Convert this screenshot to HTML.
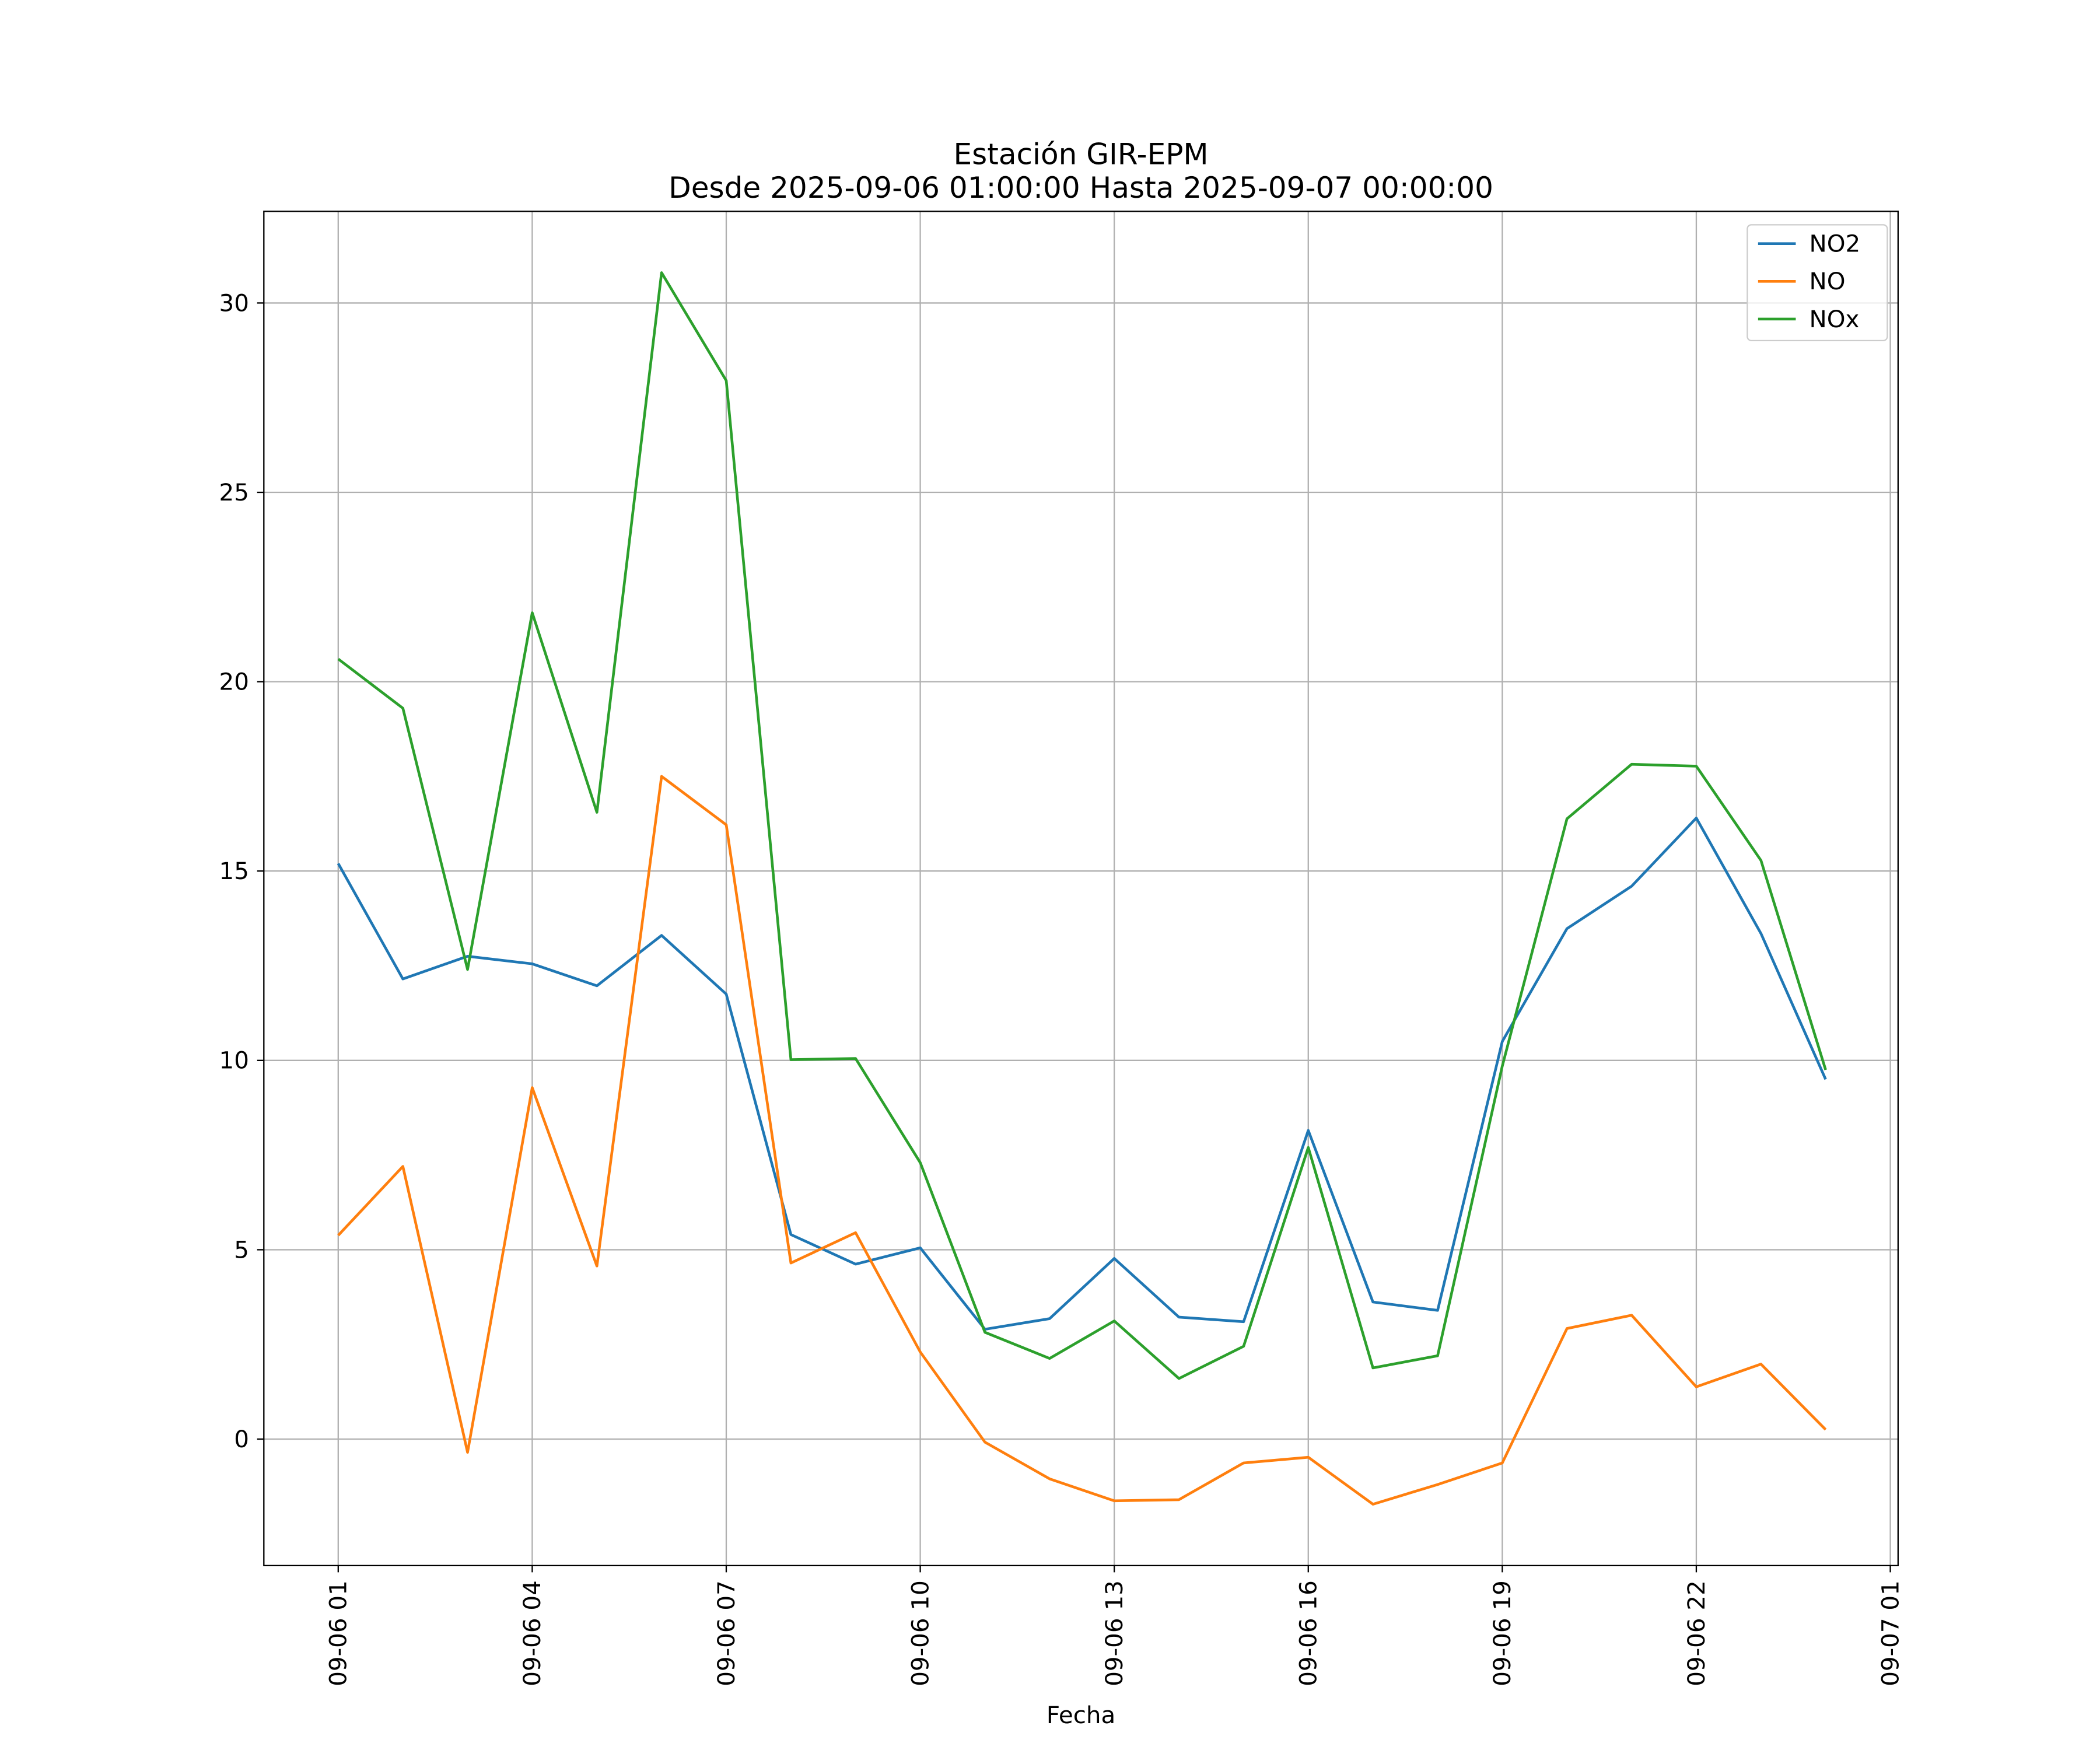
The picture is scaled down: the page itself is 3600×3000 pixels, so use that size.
<!DOCTYPE html>
<html><head><meta charset="utf-8"><style>html,body{margin:0;padding:0;background:#fff}svg{display:block}text{font-family:"DejaVu Sans","Liberation Sans",sans-serif;fill:#000}</style></head>
<body>
<svg id="chart" width="3600" height="3000" viewBox="0 0 1560 1300" xmlns="http://www.w3.org/2000/svg">
<rect width="1560" height="1300" fill="#fff"/>
<g id="grid"></g>
<g id="series"></g>
<g id="axes"></g>
<text x="803" y="122" font-size="21.7" text-anchor="middle">Estación GIR-EPM</text>
<text x="803" y="147" font-size="21.7" text-anchor="middle">Desde 2025-09-06 01:00:00 Hasta 2025-09-07 00:00:00</text>
<text x="803" y="1280" font-size="17.5" text-anchor="middle">Fecha</text>
<g id="legend"></g>
</svg>
<script>
const hours = [0,1,2,3,4,5,6,7,8,9,10,11,12,13,14,15,16,17,18,19,20,21,22,23];
const no2 = [15.2,12.15,12.75,12.55,11.97,13.3,11.75,5.4,4.62,5.05,2.9,3.18,4.77,3.22,3.1,8.15,3.62,3.4,10.5,13.48,14.6,16.4,13.35,9.5];
const no = [5.38,7.2,-0.35,9.28,4.57,17.5,16.22,4.65,5.45,2.3,-0.08,-1.05,-1.63,-1.6,-0.63,-0.48,-1.72,-1.2,-0.63,2.92,3.27,1.38,1.98,0.25];
const nox = [20.6,19.3,12.4,21.82,16.55,30.8,27.95,10.02,10.05,7.3,2.82,2.13,3.12,1.6,2.45,7.7,1.88,2.2,9.85,16.38,17.82,17.77,15.28,9.75];
const xTickHours = [0,3,6,9,12,15,18,21,24];
const xTickLabels = ["09-06 01","09-06 04","09-06 07","09-06 10","09-06 13","09-06 16","09-06 19","09-06 22","09-07 01"];
const yTicks = [0,5,10,15,20,25,30];
const seriesNames = ["NO2","NO","NOx"];
const seriesColors = ["#1f77b4","#ff7f0e","#2ca02c"];

const L=196,R=1410,T=157,B=1163;
const xMin=-1.15,xMax=24.12,yMin=-3.34,yMax=32.42;
const xs=h=>L+(h-xMin)/(xMax-xMin)*(R-L);
const ys=v=>B-(v-yMin)/(yMax-yMin)*(B-T);
const NS="http://www.w3.org/2000/svg";
function mk(tag,attrs,parent){const e=document.createElementNS(NS,tag);for(const k in attrs)e.setAttribute(k,attrs[k]);parent.appendChild(e);return e;}
const grid=document.getElementById('grid'),axes=document.getElementById('axes'),ser=document.getElementById('series'),leg=document.getElementById('legend');
xTickHours.forEach((h,i)=>{
  const x=xs(h);
  const g=mk('line',{x1:x,x2:x,y1:T,y2:B,stroke:'#b0b0b0','stroke-width':1},grid);
  
  
  const t=mk('line',{x1:x,x2:x,y1:B,y2:B+5,stroke:'#000','stroke-width':1},axes);
  
  
  const lb=mk('text',{x:0,y:0,'font-size':17.5,'text-anchor':'end',transform:`translate(${x+6},${B+11}) rotate(-90)`},axes);
  lb.textContent=xTickLabels[i];
  
  
});
yTicks.forEach(v=>{
  const y=ys(v);
  const g=mk('line',{x1:L,x2:R,y1:y,y2:y,stroke:'#b0b0b0','stroke-width':1},grid);
  
  
  const t=mk('line',{x1:L-5,x2:L,y1:y,y2:y,stroke:'#000','stroke-width':1},axes);
  
  
  const lb=mk('text',{x:L-11,y:y+6,'font-size':17.5,'text-anchor':'end'},axes);
  lb.textContent=v;
  
  
});
const frame=mk('rect',{x:L,y:T,width:R-L,height:B-T,fill:'none',stroke:'#000','stroke-width':1},axes);


[no2,no,nox].forEach((d,si)=>{
  const p=mk('polyline',{points:d.map((v,i)=>xs(hours[i])+','+ys(v)).join(' '),fill:'none',stroke:seriesColors[si],'stroke-width':2,'stroke-linejoin':'round'},ser);
  
  
});
const lb=mk('rect',{x:1298,y:167,width:104,height:86,rx:3,fill:'#fff','fill-opacity':0.8,stroke:'#ccc'},leg);


seriesNames.forEach((n,i)=>{
  const y=181+i*28;
  const ln=mk('line',{x1:1306,x2:1334,y1:y,y2:y,stroke:seriesColors[i],'stroke-width':2},leg);
  
  
  const t=mk('text',{x:1344,y:y+6,'font-size':17.5},leg);
  t.textContent=n;
  
  
});
</script>
</body></html>
